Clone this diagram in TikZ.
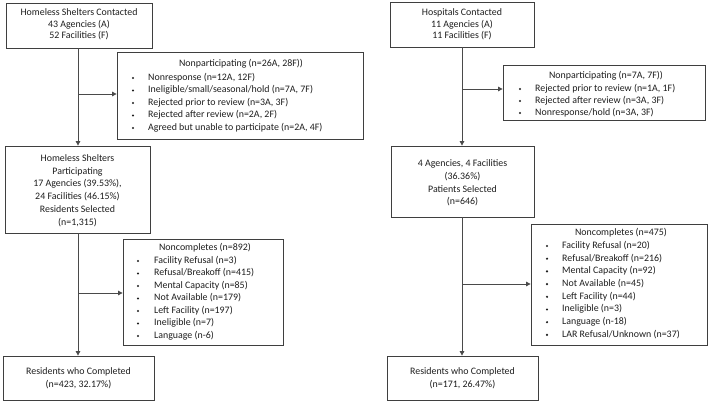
\documentclass[tikz,border=0pt]{standalone}
\usepackage{fontspec}
\setmainfont{Carlito}
\usetikzlibrary{arrows.meta}
\definecolor{boxc}{HTML}{3F3F3F}
\definecolor{linec}{HTML}{4A4A4A}
\definecolor{textc}{HTML}{1E1E1E}
\tikzset{
  box/.style={draw=boxc, line width=0.8pt, rectangle, inner sep=0pt, fill=white},
  txt/.style={font=\fontsize{9.9}{12.5}\selectfont, inner sep=0pt, text=textc},
  ctxt/.style={txt, align=center},
  ltxt/.style={txt, anchor=mid west},
  bul/.style={circle, fill=textc, inner sep=0pt, minimum size=2.4pt},
  arr/.style={draw=linec, line width=0.8pt, -{Triangle[length=4.5pt,width=4.5pt]}},
}
\begin{document}
\begin{tikzpicture}[x=1pt,y=-1pt]
\useasboundingbox[fill=white] (0,0) rectangle (709,402);
% ---------- left column ----------
\node[box, minimum width=146pt, minimum height=45pt] (a1) at (79,25.5) {};
\node[ctxt, font=\fontsize{9.9}{11.5}\selectfont] (a1t) at (79,24.5) {Homeless Shelters Contacted\\43 Agencies (A)\\52 Facilities (F)};

\node[box, minimum width=246pt, minimum height=87pt] (anp) at (240,95.5) {};
\node[txt, anchor=mid] (anpt) at (241,64) {Nonparticipating (n=26A, 28F))};
\foreach \t [count=\i from 0] in {{Nonresponse (n=12A, 12F)},{Ineligible/small/seasonal/hold (n=7A, 7F)},{Rejected prior to review (n=3A, 3F)},{Rejected after review (n=2A, 2F)},{Agreed but unable to participate (n=2A, 4F)}}{
  \node[bul] (anpb\i) at (133,78+12.5*\i) {};
  \node[ltxt] (anpl\i) at (148,78+12.5*\i) {\t};
}

\node[box, minimum width=145pt, minimum height=87pt] (a2) at (77.5,189.5) {};
\node[ctxt, font=\fontsize{9.9}{12.7}\selectfont] (a2t) at (77.5,190.5) {Homeless Shelters\\Participating\\17 Agencies (39.53\%),\\24 Facilities (46.15\%)\\Residents Selected\\(n=1,315)};

\node[box, minimum width=160pt, minimum height=106pt] (anc) at (203,292) {};
\node[txt, anchor=mid] (anct) at (205,248) {Noncompletes (n=892)};
\foreach \t [count=\i from 0] in {{Facility Refusal (n=3)},{Refusal/Breakoff (n=415)},{Mental Capacity (n=85)},{Not Available (n=179)},{Left Facility (n=197)},{Ineligible (n=7)},{Language (n-6)}}{
  \node[bul] (ancb\i) at (138,261+12.5*\i) {};
  \node[ltxt] (ancl\i) at (154,261+12.5*\i) {\t};
}

\node[box, minimum width=151pt, minimum height=44pt] (a3) at (78.5,378) {};
\node[ctxt] (a3t) at (78.5,378) {Residents who Completed\\(n=423, 32.17\%)};

\coordinate (ax) at (78,0);
\coordinate (aj1) at (78,94);
\coordinate (aj2) at (78,293);
\draw[arr] (a1.south -| ax) -- (a2.north -| ax);
\draw[arr] (aj1) -- (aj1 -| anp.west);
\draw[arr] (a2.south -| ax) -- (a3.north -| ax);
\draw[arr] (aj2) -- (aj2 -| anc.west);

% ---------- right column ----------
\node[box, minimum width=144pt, minimum height=45pt] (b1) at (462,24.5) {};
\node[ctxt, font=\fontsize{9.9}{11.5}\selectfont] (b1t) at (462,24.5) {Hospitals Contacted\\11 Agencies (A)\\11 Facilities (F)};

\node[box, minimum width=202pt, minimum height=55pt] (bnp) at (604,92.5) {};
\node[txt, anchor=mid] (bnpt) at (606,76) {Nonparticipating (n=7A, 7F))};
\foreach \t [count=\i from 0] in {{Rejected prior to review (n=1A, 1F)},{Rejected after review (n=3A, 3F)},{Nonresponse/hold (n=3A, 3F)}}{
  \node[bul] (bnpb\i) at (520,89+12*\i) {};
  \node[ltxt] (bnpl\i) at (535,89+12*\i) {\t};
}

\node[box, minimum width=143pt, minimum height=71pt] (b2) at (462.5,181.5) {};
\node[ctxt, font=\fontsize{9.9}{12.8}\selectfont] (b2t) at (462.5,183) {4 Agencies, 4 Facilities\\(36.36\%)\\Patients Selected\\(n=646)};

\node[box, minimum width=176pt, minimum height=121pt] (bnc) at (619,284.5) {};
\node[txt, anchor=mid] (bnct) at (621,233) {Noncompletes (n=475)};
\foreach \t [count=\i from 0] in {{Facility Refusal (n=20)},{Refusal/Breakoff (n=216)},{Mental Capacity (n=92)},{Not Available (n=45)},{Left Facility (n=44)},{Ineligible (n=3)},{Language (n-18)},{LAR Refusal/Unknown (n=37)}}{
  \node[bul] (bncb\i) at (547,246+12.7*\i) {};
  \node[ltxt] (bncl\i) at (562,246+12.7*\i) {\t};
}

\node[box, minimum width=151pt, minimum height=44pt] (b3) at (462.5,378) {};
\node[ctxt] (b3t) at (462.5,378) {Residents who Completed\\(n=171, 26.47\%)};

\coordinate (bx) at (462,0);
\coordinate (bj1) at (462,89);
\coordinate (bj2) at (462,284);
\draw[arr] (b1.south -| bx) -- (b2.north -| bx);
\draw[arr] (bj1) -- (bj1 -| bnp.west);
\draw[arr] (b2.south -| bx) -- (b3.north -| bx);
\draw[arr] (bj2) -- (bj2 -| bnc.west);
\end{tikzpicture}
\end{document}
